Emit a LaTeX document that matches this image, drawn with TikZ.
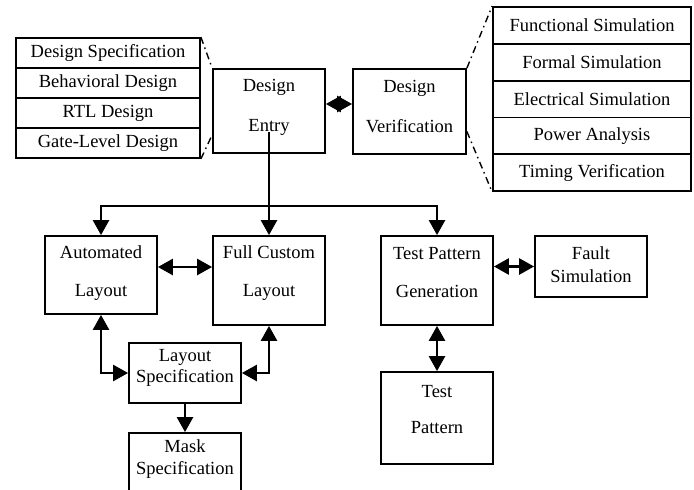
\documentclass[tikz,border=0pt]{standalone}
\usepackage{fontspec}
\setmainfont{Liberation Serif}
\usetikzlibrary{arrows.meta,calc}

\begin{document}
\begin{tikzpicture}[x=1pt,y=-1pt,
  every node/.style={font=\fontsize{18.5}{22}\selectfont},
  box/.style={draw,line width=1.8pt,inner sep=0pt},
  row/.style={box,minimum width=184pt,minimum height=30pt},
  rrow/.style={box,minimum width=198pt,minimum height=36.8pt},
  txt/.style={align=center,inner sep=0pt},
  conn/.style={line width=2.6pt},
  tip/.style={Triangle[length=15pt,width=16pt]},
  arr/.style={conn,-{Triangle[length=15pt,width=16pt]}},
  darr/.style={conn,{Triangle[length=15pt,width=16pt]}-{Triangle[length=15pt,width=16pt]}},
  dashdot/.style={line width=1.4pt,dash pattern=on 7pt off 4pt on 1.5pt off 4pt}
]
\useasboundingbox (0,0) rectangle (694,490);
\clip (0,0) rectangle (694,490);

% design entry stack
\node[row] (s1) at (108,53)  {Design Specification};
\node[row] (s2) at (108,83)  {Behavioral Design};
\node[row] (s3) at (108,113) {RTL Design};
\node[row] (s4) at (108,143) {Gate-Level Design};

% verification stack
\node[rrow] (v1) at (592,25.4)  {Functional Simulation};
\node[rrow] (v2) at (592,62.2)  {Formal Simulation};
\node[rrow] (v3) at (592,99)    {Electrical Simulation};
\node[rrow] (v4) at (592,135.8) {Power Analysis};
\node[rrow] (v5) at (592,172.6) {Timing Verification};

% main blocks
\node[box,minimum width=112pt,minimum height=84pt] (entry) at (269,111) {};
\node[txt] at (269,107) {Design\\[18pt]Entry};

\node[box,minimum width=113pt,minimum height=85pt] (verif) at (409.5,111.5) {};
\node[txt] at (409.5,107) {Design\\[18pt]Verification};

\node[box,minimum width=112pt,minimum height=78pt] (auto) at (101,275) {};
\node[txt] at (101,273) {Automated\\[16pt]Layout};

\node[box,minimum width=112pt,minimum height=89pt] (fcl) at (269,280.5) {};
\node[txt] at (269,273) {Full Custom\\[16pt]Layout};

\node[box,minimum width=112pt,minimum height=89pt] (tpg) at (437,280.5) {};
\node[txt] at (437,273) {Test Pattern\\[16pt]Generation};

\node[box,minimum width=112pt,minimum height=61pt] (fault) at (591,266.5) {};
\node[txt] at (591,264.5) {Fault\\[1pt]Simulation};

\node[box,minimum width=112pt,minimum height=60pt] (ls) at (185,373) {};
\node[txt] at (185,367.5) {Layout\\[-1pt]Specification};

\node[box,minimum width=112pt,minimum height=87pt] (mask) at (185,476.5) {};
\node[txt] at (185,459) {Mask\\[0pt]Specification};

\node[box,minimum width=112pt,minimum height=92pt] (tp) at (437,418) {};
\node[txt] at (437,410) {Test\\[14pt]Pattern};

% expansion guides
\draw[dashdot] (s1.north east) -- (entry.north west);
\draw[dashdot] (s4.south east) -- ([yshift=-24pt]entry.west);
\draw[dashdot] (verif.north east) -- (v1.north west);
\draw[dashdot] ([yshift=-20pt]verif.east) -- (v5.south west);

% connectors
\draw[darr] ([yshift=7pt]entry.east) -- ([yshift=7pt]entry.east -| verif.west);
\coordinate (entryout) at (269,132);
\coordinate (split) at (269,206);
\draw[conn] (entryout) -- (split);
\draw[arr] (split) -- (fcl.north);
\draw[arr] (split) -| (auto.north);
\draw[arr] (split) -| (tpg.north);

\draw[darr] ([yshift=8pt]auto.east) -- ([yshift=8pt]auto.east -| fcl.west);
\draw[darr] (auto.south) |- (ls.west);
\draw[darr] (fcl.south) |- (ls.east);
\draw[arr] (ls.south) -- (mask.north);

\draw[darr] (fault.west -| tpg.east) -- (fault.west);
\draw[darr] (tpg.south) -- (tp.north);
\end{tikzpicture}
\end{document}
